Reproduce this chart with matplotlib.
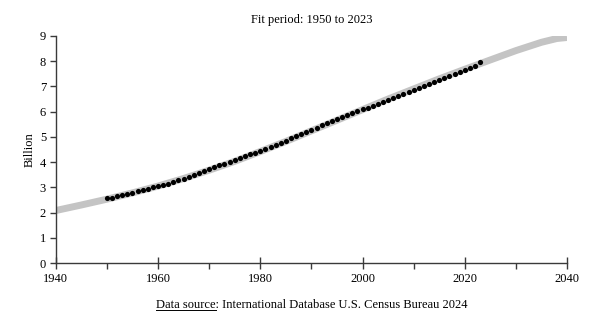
import numpy as np
import matplotlib
matplotlib.use("Agg")
import matplotlib.pyplot as plt
from matplotlib.lines import Line2D
import matplotlib.ticker as tck

plt.rcParams["font.family"] = ["Liberation Serif", "DejaVu Serif"]

# observed world population (billion), 1950-2023
years = list(range(1950, 2024))
population = [
    2.558, 2.595, 2.637, 2.682, 2.730, 2.782, 2.835, 2.891, 2.948, 3.001,
    3.043, 3.084, 3.140, 3.210, 3.281, 3.350, 3.421, 3.490, 3.562, 3.637,
    3.713, 3.790, 3.867, 3.942, 4.017, 4.089, 4.160, 4.232, 4.304, 4.379,
    4.451, 4.534, 4.615, 4.696, 4.775, 4.856, 4.941, 5.027, 5.115, 5.201,
    5.289, 5.372, 5.456, 5.538, 5.619, 5.699, 5.779, 5.858, 5.935, 6.012,
    6.089, 6.165, 6.242, 6.319, 6.396, 6.473, 6.551, 6.630, 6.709, 6.788,
    6.866, 6.944, 7.022, 7.101, 7.179, 7.256, 7.335, 7.413, 7.490, 7.567,
    7.643, 7.720, 7.797, 7.970,
]

# fitted curve (billion), 1940-2040
fit_years = [1940, 1945, 1950, 1955, 1960, 1965, 1970, 1975, 1980, 1985, 1990,
             1995, 2000, 2005, 2010, 2015, 2020, 2025, 2030, 2035, 2038, 2040]
fit_values = [2.08, 2.30, 2.53, 2.78, 3.05, 3.35, 3.68, 4.03, 4.42, 4.82, 5.24,
              5.66, 6.08, 6.50, 6.90, 7.30, 7.68, 8.05, 8.42, 8.75, 8.90, 8.94]

fig = plt.figure(figsize=(6.0, 3.29), dpi=100)
ax = fig.add_axes([0.093, 0.2006, 0.852, 0.69])

ax.plot(fit_years, fit_values, color="#c4c4c4", linewidth=5,
        solid_capstyle="butt", zorder=1)
ax.scatter(years, population, s=14, color="black", zorder=2, linewidths=0)

ax.set_xlim(1940, 2040)
ax.set_ylim(0, 9)
ax.set_xticks([1940, 1960, 1980, 2000, 2020, 2040])
ax.xaxis.set_minor_locator(tck.MultipleLocator(10))
ax.set_yticks(range(0, 10))

spine_col = "#3a3a3a"
for side in ["top", "right"]:
    ax.spines[side].set_visible(False)
for side in ["left", "bottom"]:
    ax.spines[side].set_color(spine_col)
    ax.spines[side].set_linewidth(1.0)

ax.tick_params(axis="x", which="major", direction="inout", length=8,
               width=1.0, color=spine_col, labelsize=9, pad=3)
ax.tick_params(axis="x", which="minor", direction="out", length=4,
               width=1.0, color=spine_col)
ax.tick_params(axis="y", direction="out", length=4, width=1.0,
               color=spine_col, labelsize=9, pad=3)

ax.set_ylabel("Billion", fontsize=9, labelpad=3)
ax.set_title("Fit period: 1950 to 2023", fontsize=9, pad=9)

# source line, with "Data source" underlined
src_x, src_y = 0.52, 0.065
src = fig.text(src_x, src_y,
               "Data source: International Database U.S. Census Bureau 2024",
               ha="center", va="baseline", fontsize=9)
fig.canvas.draw()
r = fig.canvas.get_renderer()
bb = src.get_window_extent(r)
probe = fig.text(0, 0, "Data source", fontsize=9)
w = probe.get_window_extent(r).width
probe.remove()
x0 = bb.x0 / fig.bbox.width
x1 = (bb.x0 + w) / fig.bbox.width
yl = src_y - 2.0 / fig.bbox.height
fig.add_artist(Line2D([x0, x1], [yl, yl], color="black", linewidth=0.7,
                      transform=fig.transFigure))

fig.savefig("out.png", dpi=100)
